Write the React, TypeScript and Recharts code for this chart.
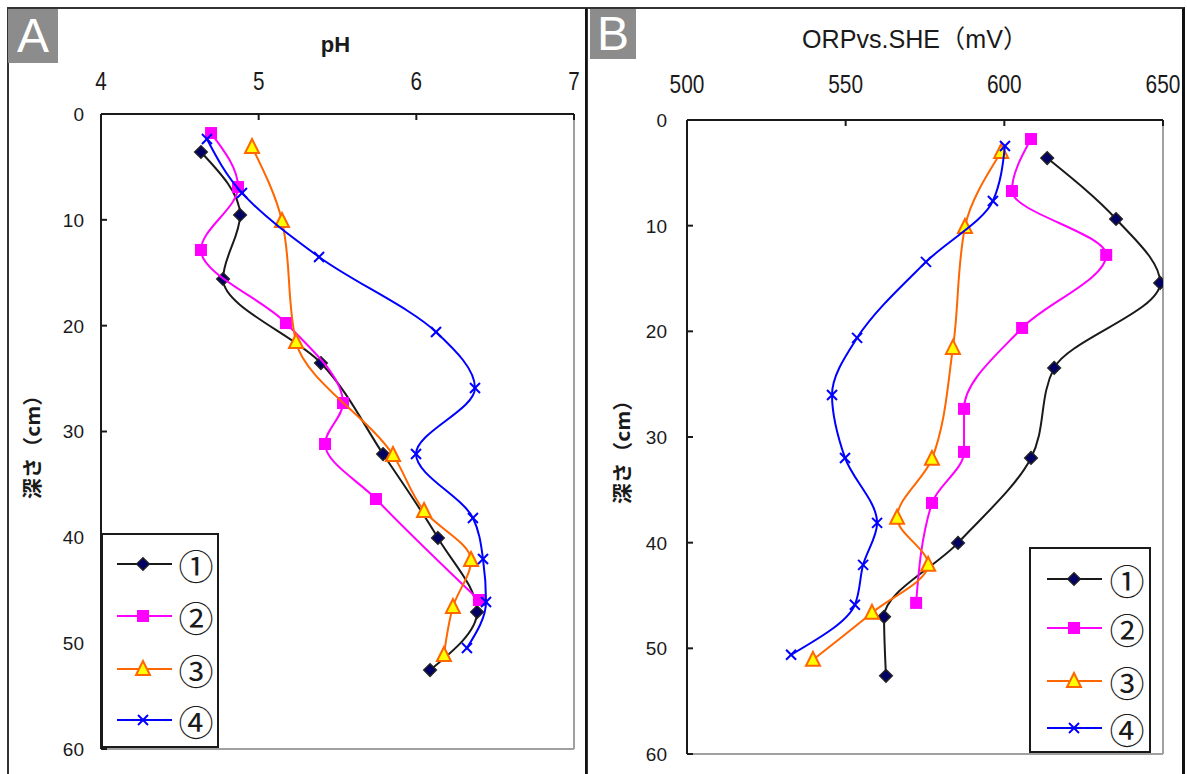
import React from 'react';
import { ScatterChart, Scatter, XAxis, YAxis, ReferenceLine, Legend } from 'recharts';

// ---------- data ----------
const depthTicks = [0, 10, 20, 30, 40, 50, 60];
const phTicks = [4, 5, 6, 7];
const orpTicks = [500, 550, 600, 650];
const seriesNames = ['①', '②', '③', '④'];

// Panel A (pH vs depth)
const phA1 = [4.634, 4.882, 4.774, 5.395, 5.789, 6.137, 6.385, 6.087];
const depthA1 = [3.59, 9.54, 15.59, 23.53, 32.13, 40.06, 47.06, 52.54];
const phA2 = [4.698, 4.869, 4.634, 5.173, 5.535, 5.421, 5.744, 6.397];
const depthA2 = [1.8, 6.9, 12.85, 19.75, 27.31, 31.18, 36.38, 45.92];
const phA3 = [4.958, 5.148, 5.237, 5.852, 6.049, 6.347, 6.232, 6.175];
const depthA3 = [3.12, 10.11, 21.54, 32.22, 37.51, 42.14, 46.58, 51.12];
const phA4 = [4.672, 4.894, 5.383, 6.125, 6.372, 5.998, 6.359, 6.423, 6.442, 6.321];
const depthA4 = [2.36, 7.46, 13.51, 20.6, 25.89, 32.13, 38.17, 42.05, 46.11, 50.46];

// Panel B (ORP vs depth)
const orpB1 = [613.5, 635.2, 649.1, 615.7, 608.4, 585.4, 562.1, 562.7];
const depthB1 = [3.6, 9.37, 15.42, 23.46, 31.98, 40.02, 47.02, 52.6];
const orpB2 = [608.4, 602.4, 632.1, 605.6, 587.3, 587.3, 577.2, 572.2];
const depthB2 = [1.8, 6.72, 12.77, 19.68, 27.34, 31.41, 36.24, 45.7];
const orpB3 = [599.0, 587.6, 583.8, 577.2, 566.2, 576.0, 558.3, 539.7];
const depthB3 = [3.03, 10.12, 21.57, 32.07, 37.65, 42.1, 46.64, 51.09];
const orpB4 = [600.2, 596.4, 575.3, 553.6, 545.7, 549.8, 559.9, 555.5, 552.9, 532.8];
const depthB4 = [2.46, 7.66, 13.43, 20.62, 26.02, 31.98, 38.13, 42.1, 45.88, 50.61];

const zip = (xs: number[], ys: number[]) => xs.map((x, i) => ({ x, y: ys[i] }));

// ---------- markers ----------
const INK = '#1a1a1a';
const Diamond = (cx: number, cy: number, r = 6.3) => (
  <polygon
    points={`${cx},${cy - r} ${cx + r},${cy} ${cx},${cy + r} ${cx - r},${cy}`}
    fill="#000066"
    stroke="#222"
    strokeWidth={1.5}
  />
);
const Square = (cx: number, cy: number, r = 6) => (
  <rect x={cx - r} y={cy - r} width={2 * r} height={2 * r} fill="#ff00ff" />
);
const Triangle = (cx: number, cy: number, r = 7) => (
  <polygon
    points={`${cx},${cy - r - 1} ${cx + r},${cy + r - 1} ${cx - r},${cy + r - 1}`}
    fill="#ffff00"
    stroke="#ff6600"
    strokeWidth={2}
  />
);
const Cross = (cx: number, cy: number, r = 5) => (
  <g stroke="#0000ff" strokeWidth={2}>
    <line x1={cx - r} y1={cy - r} x2={cx + r} y2={cy + r} />
    <line x1={cx - r} y1={cy + r} x2={cx + r} y2={cy - r} />
  </g>
);

const seriesStyles = [
  { line: '#1a1a1a', marker: Diamond },
  { line: '#ff00ff', marker: Square },
  { line: '#ff6600', marker: Triangle },
  { line: '#0000ff', marker: Cross },
];

const shapeOf = (i: number) => (p: any) => seriesStyles[i].marker(p.cx, p.cy);

// ---------- ticks & labels ----------
const makeXTick = (charW: number) => (p: any) => {
  const s = String(p.payload.value);
  return (
    <text
      x={p.x}
      y={p.y}
      textAnchor="middle"
      fontSize={26}
      fontFamily="'Liberation Sans', Arial, sans-serif"
      fill={INK}
      textLength={s.length * charW}
      lengthAdjust="spacingAndGlyphs"
    >
      {s}
    </text>
  );
};

const YTick = (p: any) => (
  <text
    x={p.x}
    y={p.y}
    dy="0.36em"
    textAnchor="end"
    fontSize={19}
    fontFamily="'Liberation Sans', Arial, sans-serif"
    fill={INK}
  >
    {p.payload.value}
  </text>
);

const makeXLabel = (text: string, dx: number, dy: number, size: number, bold: boolean, len?: number) => (p: any) => {
  const vb = p.viewBox;
  const cx = vb.x + vb.width / 2 + dx;
  const cy = vb.y + dy;
  return (
    <text
      x={cx}
      y={cy}
      textAnchor="middle"
      fontSize={size}
      fontWeight={bold ? 'bold' : 'normal'}
      fontFamily="'Liberation Sans', 'Noto Sans CJK JP', Arial, sans-serif"
      fill={INK}
      textLength={len}
      lengthAdjust={len ? 'spacingAndGlyphs' : undefined}
    >
      {text}
    </text>
  );
};

const makeYLabel = (dx: number, dy: number) => (p: any) => {
  const vb = p.viewBox;
  const cx = vb.x + dx;
  const cy = vb.y + dy;
  return (
    <text
      x={cx}
      y={cy}
      transform={`rotate(-90 ${cx} ${cy})`}
      textAnchor="middle"
      dominantBaseline="central"
      fontSize={20}
      fontWeight="bold"
      fontFamily="'Noto Sans CJK JP', sans-serif"
      fill={INK}
      textLength={114}
      lengthAdjust="spacingAndGlyphs"
    >
      深さ（cm）
    </text>
  );
};

// ---------- legend ----------
const LegendBox = ({ w, h, rows, x1, x2, mx, tx }: any) => (
  <svg width={w} height={h} style={{ display: 'block' }}>
    <rect x={1} y={1} width={w - 2} height={h - 2} fill="#fff" stroke={INK} strokeWidth={2} />
    {seriesNames.map((name, i) => {
      const cy = rows[i];
      const st = seriesStyles[i];
      return (
        <g key={name}>
          <line x1={x1} x2={x2} y1={cy} y2={cy} stroke={st.line} strokeWidth={2} />
          {st.marker(mx, cy)}
          <text
            x={tx}
            y={cy}
            textAnchor="middle"
            dominantBaseline="central"
            fontSize={35}
            fontFamily="'Noto Sans CJK JP', 'DejaVu Sans', sans-serif"
            fill={INK}
          >
            {name}
          </text>
        </g>
      );
    })}
  </svg>
);

// ---------- panel pieces ----------
const axisLine = { stroke: INK, strokeWidth: 2 };
const tickLine = { stroke: INK, strokeWidth: 2 };
const grayEdge = '#a0a0a0';

const dataA = [zip(phA1, depthA1), zip(phA2, depthA2), zip(phA3, depthA3), zip(phA4, depthA4)];
const dataB = [zip(orpB1, depthB1), zip(orpB2, depthB2), zip(orpB3, depthB3), zip(orpB4, depthB4)];

const renderSeries = (sets: any[]) =>
  sets.map((d, i) => (
    <Scatter
      key={seriesNames[i]}
      name={seriesNames[i]}
      data={d}
      line={{ stroke: seriesStyles[i].line, strokeWidth: 2 }}
      lineType="joint"
      lineJointType="monotoneY"
      shape={shapeOf(i)}
      isAnimationActive={false}
    />
  ));

const labelBox = (letter: string, left: number, w: number, h: number) => (
  <div
    style={{
      position: 'absolute',
      left,
      top: 9,
      width: w,
      height: h,
      background: '#8c8c8c',
      color: '#fff',
      fontFamily: "'Liberation Sans', Arial, sans-serif",
      fontSize: 48,
      lineHeight: `${h}px`,
      textAlign: 'center',
    }}
  >
    {letter}
  </div>
);

export default function App() {
  return (
    <div
      style={{
        position: 'absolute',
        left: 0,
        top: 0,
        width: 1187,
        height: 774,
        overflow: 'hidden',
        background: '#fff',
      }}
    >
      {/* frames */}
      <div
        style={{
          position: 'absolute',
          left: 7,
          top: 7,
          width: 576,
          height: 800,
          borderTop: '2px solid #333',
          borderLeft: '2px solid #333',
          borderRight: '3px solid #111',
        }}
      />
      <div
        style={{
          position: 'absolute',
          left: 587,
          top: 7,
          width: 594,
          height: 800,
          borderTop: '2px solid #333',
          borderLeft: '1px solid #333',
          borderRight: '3px solid #111',
        }}
      />

      {/* Panel A */}
      <div style={{ position: 'absolute', left: 0, top: 0 }}>
        <ScatterChart width={590} height={774} margin={{ top: 84, right: 16, bottom: 25, left: 61 }}>
          <XAxis
            type="number"
            dataKey="x"
            orientation="top"
            domain={[4, 7]}
            ticks={phTicks}
            interval={0}
            allowDataOverflow
            height={30}
            axisLine={axisLine}
            tickLine={tickLine}
            tickSize={-6}
            tickMargin={30}
            tick={makeXTick(11.5)}
            label={makeXLabel('pH', -2, -32, 22, true)}
          />
          <YAxis
            type="number"
            dataKey="y"
            domain={[0, 60]}
            reversed
            ticks={depthTicks}
            interval={0}
            allowDataOverflow
            width={40}
            axisLine={axisLine}
            tickLine={tickLine}
            tickSize={-6}
            tickMargin={23}
            tick={YTick}
            label={makeYLabel(-30, 328)}
          />
          <ReferenceLine x={7} stroke={grayEdge} strokeWidth={2} />
          <ReferenceLine y={60} stroke={grayEdge} strokeWidth={2} />
          {renderSeries(dataA)}
          <Legend
            verticalAlign="middle"
            align="center"
            layout="horizontal"
            wrapperStyle={{ left: 101, top: 533, width: 118, height: 215 }}
            content={() => (
              <LegendBox w={118} h={215} rows={[31, 83, 136, 187]} x1={16} x2={71} mx={42} tx={95} />
            )}
          />
        </ScatterChart>
      </div>

      {/* Panel B */}
      <div style={{ position: 'absolute', left: 590, top: 0 }}>
        <ScatterChart width={597} height={774} margin={{ top: 90, right: 24, bottom: 20, left: 57 }}>
          <XAxis
            type="number"
            dataKey="x"
            orientation="top"
            domain={[500, 650]}
            ticks={orpTicks}
            interval={0}
            allowDataOverflow
            height={30}
            axisLine={axisLine}
            tickLine={tickLine}
            tickSize={-6}
            tickMargin={33}
            tick={makeXTick(11.6)}
            label={makeXLabel('ORPvs.SHE（mV）', -10, -42, 25, false, 226)}
          />
          <YAxis
            type="number"
            dataKey="y"
            domain={[0, 60]}
            reversed
            ticks={depthTicks}
            interval={0}
            allowDataOverflow
            width={40}
            axisLine={axisLine}
            tickLine={tickLine}
            tickSize={-6}
            tickMargin={26}
            tick={YTick}
            label={makeYLabel(-26, 327)}
          />
          <ReferenceLine x={650} stroke={grayEdge} strokeWidth={2} />
          <ReferenceLine y={60} stroke={grayEdge} strokeWidth={2} />
          {renderSeries(dataB)}
          <Legend
            verticalAlign="middle"
            align="center"
            layout="horizontal"
            wrapperStyle={{ left: 439, top: 547, width: 122, height: 206 }}
            content={() => (
              <LegendBox w={122} h={206} rows={[32, 81, 134, 181]} x1={18} x2={73} mx={45} tx={98} />
            )}
          />
        </ScatterChart>
      </div>

      {labelBox('A', 8, 50, 54)}
      {labelBox('B', 590, 46, 50)}
    </div>
  );
}
